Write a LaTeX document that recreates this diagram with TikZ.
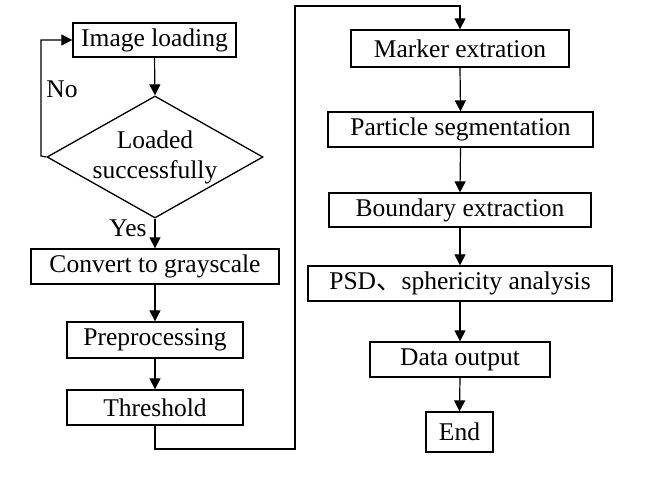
\documentclass[tikz,border=0pt]{standalone}
\usepackage{fontspec}
\setmainfont{Liberation Serif}
\newfontfamily\cjk{Noto Sans CJK SC}
\usetikzlibrary{shapes.geometric,arrows.meta}
\begin{document}
\begin{tikzpicture}[x=1pt,y=-1pt,
  every node/.style={font=\fontsize{25.5pt}{30pt}\selectfont, inner sep=0pt},
  box/.style={draw, line width=1.3pt, rectangle},
  arr/.style={line width=1.2pt, -{Triangle[length=11pt,width=11pt]}},
  ln/.style={line width=1.2pt}]
\useasboundingbox (0,0) rectangle (645,487);
% left column
\node[box, minimum width=163pt, minimum height=34pt] (img) at (154.5,40) {Image loading};
\node[draw, line width=1.3pt, diamond, minimum width=216pt, minimum height=122pt] (dia) at (155,157) {};
\node[align=center] (diatext) at (155,157) {Loaded\\successfully};
\node[box, minimum width=248pt, minimum height=35pt] (gray) at (155,266.5) {Convert to grayscale};
\node[box, minimum width=176pt, minimum height=36pt] (pre) at (155,340) {Preprocessing};
\node[box, minimum width=176pt, minimum height=35pt] (thr) at (155,407.5) {Threshold};
% right column
\node[box, minimum width=218pt, minimum height=37pt] (mark) at (460,48.5) {Marker extration};
\node[box, minimum width=265pt, minimum height=35pt] (part) at (460.5,129.5) {Particle segmentation};
\node[box, minimum width=262pt, minimum height=34pt] (bound) at (460,210) {Boundary extraction};
\node[box, minimum width=304pt, minimum height=35pt] (psd) at (460,283.5) {PSD{\cjk 、}sphericity analysis};
\node[box, minimum width=180pt, minimum height=35pt] (data) at (460,359.5) {Data output};
\node[box, minimum width=67pt, minimum height=40pt] (end) at (459.5,432) {End};
% labels
\node (no) at (62,89) {No};
\node (yes) at (128,228) {Yes};
% coordinates
\coordinate (c1) at (295,449);
\coordinate (c2) at (295,6);
\coordinate (c3) at (41,156);
% connectors
\draw[arr] (img.south) -- (dia.north);
\draw[arr] (dia.west) -- (c3) |- (img.west);
\draw[arr] (dia.south) -- (gray.north);
\draw[arr] (gray.south) -- (pre.north);
\draw[arr] (pre.south) -- (thr.north);
\draw[arr] (thr.south) |- (c1) -- (c2) -| (mark.north);
\draw[arr] (mark.south) -- (part.north);
\draw[arr] (part.south) -- (bound.north);
\draw[arr] (bound.south) -- (psd.north);
\draw[arr] (psd.south) -- (data.north);
\draw[arr] (data.south) -- (end.north);
\end{tikzpicture}
\end{document}
